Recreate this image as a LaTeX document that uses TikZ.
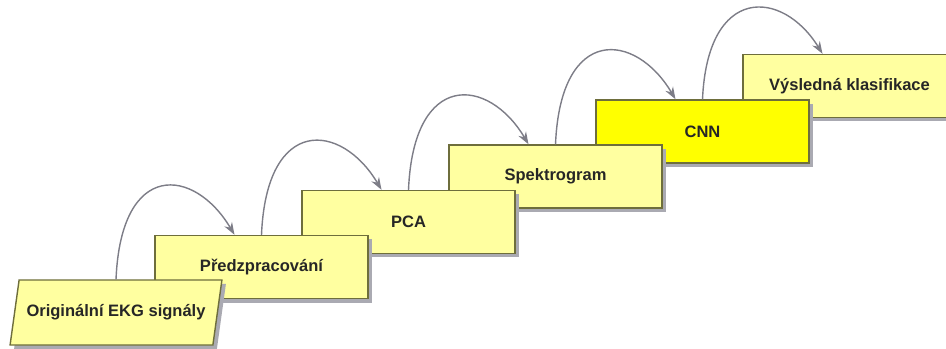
\documentclass[tikz,border=0pt]{standalone}
\usepackage{fontspec}
\setmainfont{Liberation Sans}
\usepackage{xcolor}
\usepackage{tikz}
\usetikzlibrary{shapes.geometric, arrows.meta, shadows}
\definecolor{ekgfill}{RGB}{255,255,160}
\definecolor{ekgcnn}{RGB}{255,255,0}
\definecolor{ekgedge}{RGB}{110,110,60}
\definecolor{ekgshadow}{RGB}{170,170,178}
\definecolor{ekgarrow}{RGB}{125,125,135}

\begin{document}
\begin{tikzpicture}[
  stage/.style={rectangle, draw=ekgedge, fill=ekgfill, text=black!85,
                line width=0.8pt, minimum width=4.26cm, minimum height=1.26cm,
                align=center, font=\fontsize{9.4}{11}\selectfont\bfseries,
                drop shadow={shadow xshift=0.08cm, shadow yshift=-0.08cm,
                             fill=ekgshadow, opacity=1}},
  input/.style={stage, trapezium, trapezium left angle=72,
                trapezium right angle=108, trapezium stretches=true,
                minimum width=4.24cm, minimum height=1.3cm},
  arr/.style={-{Stealth[length=7pt, width=5pt]}, line width=0.8pt, color=ekgarrow},
]
\useasboundingbox (0,0) rectangle (18.92,6.96);

% higher steps first, lower ones lie on top
\node[stage] (result) at (16.99,5.24) {Výsledná klasifikace};
\node[stage, fill=ekgcnn] (cnn) at (14.05,4.33) {CNN};
\node[stage] (spec)   at (11.11,3.43) {Spektrogram};
\node[stage] (pca)    at (8.17,2.52)  {PCA};
\node[stage] (prep)   at (5.23,1.62)  {Předzpracování};
\node[input] (ekg)    at (2.32,0.71)  {Originální EKG signály};

\draw[arr] (ekg.north)  .. controls +(0.1,2.4) and +(-0.8,1.35) .. ([xshift=-0.54cm]prep.north);
\draw[arr] (prep.north) .. controls +(0.1,2.4) and +(-0.8,1.35) .. ([xshift=-0.54cm]pca.north);
\draw[arr] (pca.north)  .. controls +(0.1,2.4) and +(-0.8,1.35) .. ([xshift=-0.54cm]spec.north);
\draw[arr] (spec.north) .. controls +(0.1,2.4) and +(-0.8,1.35) .. ([xshift=-0.54cm]cnn.north);
\draw[arr] (cnn.north)  .. controls +(0.1,2.3) and +(-0.8,1.3) .. ([xshift=-0.54cm]result.north);

\end{tikzpicture}
\end{document}
